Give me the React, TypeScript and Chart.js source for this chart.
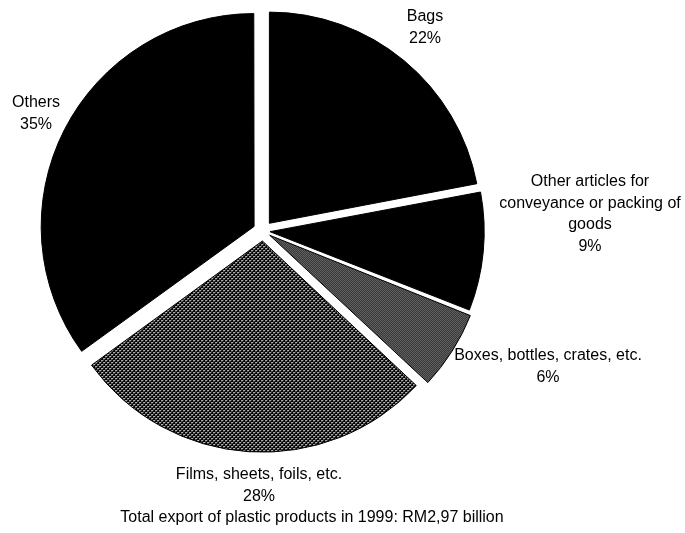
import React, { useEffect, useRef } from "react";
import { Chart, registerables } from "chart.js";

Chart.register(...registerables);

// ---- data ----
const categories = [
  "Bags",
  "Other articles for conveyance or packing of goods",
  "Boxes, bottles, crates, etc.",
  "Films, sheets, foils, etc.",
  "Others",
];
const shares = [22, 9, 6, 28, 35];
const categoryLines = [
  ["Bags"],
  ["Other articles for", "conveyance or packing of", "goods"],
  ["Boxes, bottles, crates, etc."],
  ["Films, sheets, foils, etc."],
  ["Others"],
];
const footerText = "Total export of plastic products in 1999: RM2,97 billion";

// ---- layout / style ----
const W = 685;
const H = 533;
const SLICE_OFFSETS = [40, 28, 32, 40, 40];
const LABEL_ANCHORS: [number, number][] = [
  [425, 17],
  [590, 182],
  [548, 356],
  [259, 475],
  [36, 103],
];
const FOOTER_POS: [number, number] = [312, 518];
const LINE_H = 21.5;
const FONT = '16px "Liberation Sans", Arial, sans-serif';

function makeFilmsPattern(ctx: CanvasRenderingContext2D) {
  const c = document.createElement("canvas");
  c.width = 4;
  c.height = 4;
  const g = c.getContext("2d")!;
  g.fillStyle = "#000";
  g.fillRect(0, 0, 4, 4);
  g.fillStyle = "#fff";
  g.fillRect(0, 0, 1, 1);
  g.fillRect(2, 2, 1, 1);
  g.fillStyle = "#888";
  g.fillRect(1, 0, 1, 1);
  g.fillRect(0, 1, 1, 1);
  g.fillRect(3, 2, 1, 1);
  g.fillRect(2, 3, 1, 1);
  return ctx.createPattern(c, "repeat")!;
}

function makeBoxesPattern(ctx: CanvasRenderingContext2D) {
  const c = document.createElement("canvas");
  c.width = 2;
  c.height = 2;
  const g = c.getContext("2d")!;
  g.fillStyle = "#000";
  g.fillRect(0, 0, 2, 2);
  g.fillStyle = "#9a9a9a";
  g.fillRect(1, 0, 1, 1);
  g.fillRect(0, 1, 1, 1);
  return ctx.createPattern(c, "repeat")!;
}

const labelPlugin = {
  id: "sliceLabels",
  afterDraw(chart: any) {
    const ctx: CanvasRenderingContext2D = chart.ctx;
    ctx.save();
    ctx.font = FONT;
    ctx.fillStyle = "#000";
    ctx.textAlign = "center";
    ctx.textBaseline = "middle";
    categories.forEach((_, i) => {
      const [x, y] = LABEL_ANCHORS[i];
      const lines = [...categoryLines[i], `${shares[i]}%`];
      lines.forEach((l, j) => ctx.fillText(l, x, y + j * LINE_H));
    });
    ctx.fillText(footerText, FOOTER_POS[0], FOOTER_POS[1]);
    ctx.restore();
  },
};

export default function App() {
  const ref = useRef<HTMLCanvasElement | null>(null);
  useEffect(() => {
    const canvas = ref.current!;
    const ctx = canvas.getContext("2d")!;
    const films = makeFilmsPattern(ctx);
    const boxes = makeBoxesPattern(ctx);
    const chart = new Chart(canvas, {
      type: "pie",
      data: {
        labels: categories,
        datasets: [
          {
            data: shares,
            backgroundColor: ["#000", "#000", boxes, films, "#000"],
            borderColor: "#000",
            borderWidth: 1,
            offset: SLICE_OFFSETS,
            hoverOffset: 0,
            radius: 211,
          } as any,
        ],
      },
      options: {
        responsive: false,
        animation: false,
        layout: { padding: { left: 0, top: 0, right: 159, bottom: 71 } },
        plugins: {
          legend: { display: false },
          tooltip: { enabled: false },
        },
        events: [],
      },
      plugins: [labelPlugin],
    });
    return () => chart.destroy();
  }, []);
  return (
    <div style={{ position: "fixed", left: 0, top: 0, width: W, height: H, background: "#fff" }}>
      <canvas ref={ref} width={W} height={H} style={{ display: "block" }} />
    </div>
  );
}
